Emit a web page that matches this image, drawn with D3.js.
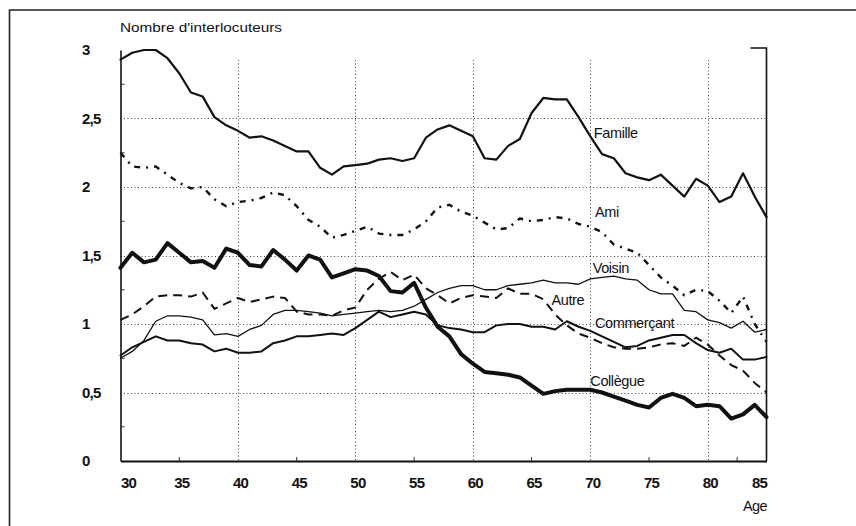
<!DOCTYPE html>
<html>
<head>
<meta charset="utf-8">
<script src="https://cdn.jsdelivr.net/npm/d3@7"></script>
<style>
  html, body { margin: 0; padding: 0; background: #fff; }
  svg { display: block; }
  text { font-family: "Liberation Sans", Arial, Helvetica, sans-serif; fill: #111; }
</style>
</head>
<body>
<svg id="chart" width="856" height="526"></svg>
<script>
// ---- Data ----
const ages = d3.range(30, 86); // 30..85
const famille = [2.93,2.98,3.00,3.00,2.94,2.83,2.69,2.66,2.51,2.45,2.41,2.36,2.37,2.34,2.30,2.26,2.26,2.14,2.09,2.15,
  2.16,2.17,2.20,2.21,2.19,2.21,2.36,2.42,2.45,2.41,2.37,2.21,2.20,2.30,2.35,2.54,2.65,2.64,2.64,2.51,
  2.37,2.24,2.21,2.10,2.07,2.05,2.09,2.01,1.93,2.06,2.01,1.89,1.93,2.10,1.93,1.78];
const ami = [2.25,2.15,2.14,2.15,2.09,2.03,1.99,2.00,1.91,1.86,1.89,1.90,1.92,1.96,1.94,1.86,1.76,1.71,1.63,1.65,
  1.68,1.71,1.66,1.65,1.65,1.69,1.75,1.85,1.87,1.82,1.79,1.74,1.69,1.70,1.77,1.75,1.76,1.78,1.77,1.73,
  1.71,1.67,1.58,1.55,1.52,1.43,1.34,1.28,1.21,1.25,1.24,1.17,1.08,1.20,1.00,0.87];
const voisin = [0.75,0.80,0.88,1.02,1.06,1.06,1.05,1.03,0.92,0.93,0.91,0.96,0.99,1.07,1.10,1.10,1.09,1.08,1.06,1.07,
  1.08,1.09,1.10,1.09,1.10,1.13,1.18,1.23,1.26,1.28,1.28,1.25,1.25,1.28,1.29,1.30,1.32,1.30,1.30,1.29,
  1.33,1.34,1.35,1.33,1.32,1.25,1.22,1.22,1.10,1.09,1.03,1.01,0.97,1.02,0.94,0.96];
const autre = [1.03,1.07,1.13,1.20,1.21,1.21,1.20,1.23,1.11,1.15,1.19,1.16,1.18,1.20,1.19,1.09,1.07,1.07,1.06,1.10,
  1.12,1.25,1.33,1.38,1.32,1.36,1.26,1.21,1.15,1.19,1.21,1.20,1.19,1.26,1.22,1.22,1.18,1.07,0.99,0.93,
  0.90,0.86,0.83,0.82,0.82,0.83,0.85,0.86,0.84,0.90,0.85,0.77,0.70,0.66,0.57,0.50];
const commercant = [0.77,0.83,0.87,0.91,0.88,0.88,0.86,0.85,0.80,0.82,0.79,0.79,0.80,0.86,0.88,0.91,0.91,0.92,0.93,0.92,
  0.97,1.03,1.09,1.05,1.07,1.09,1.07,0.99,0.97,0.96,0.94,0.94,0.99,1.00,1.00,0.98,0.98,0.96,1.02,0.98,
  0.95,0.91,0.87,0.83,0.84,0.88,0.90,0.92,0.92,0.86,0.81,0.79,0.82,0.74,0.74,0.76];
const collegue = [1.41,1.52,1.45,1.47,1.59,1.52,1.45,1.46,1.41,1.55,1.52,1.43,1.42,1.54,1.47,1.39,1.50,1.47,1.34,1.37,
  1.40,1.39,1.35,1.24,1.23,1.30,1.12,0.98,0.91,0.78,0.71,0.65,0.64,0.63,0.61,0.55,0.49,0.51,0.52,0.52,
  0.52,0.50,0.47,0.44,0.41,0.39,0.46,0.49,0.46,0.40,0.41,0.40,0.31,0.34,0.41,0.32];

const seriesNames = ["Famille","Ami","Voisin","Autre","Commerçant","Collègue"];
const yTickValues = [0, 0.5, 1, 1.5, 2, 2.5, 3];
const yTickLabels = ["0","0,5","1","1,5","2","2,5","3"];
const xTickValues = [30,35,40,45,50,55,60,65,70,75,80,85];
const xTickLabels = ["30","35","40","45","50","55","60","65","70","75","80","85"];
const yTitle = "Nombre d'interlocuteurs";
const xTitle = "Age";

// ---- Styles ----
const styles = {
  "Famille":    { values: famille,    width: 2.2, dash: null },
  "Ami":        { values: ami,        width: 2.4, dash: "6,6,2,6" },
  "Voisin":     { values: voisin,     width: 1.3, dash: null },
  "Autre":      { values: autre,      width: 2.0, dash: "9,6" },
  "Commerçant": { values: commercant, width: 2.0, dash: null },
  "Collègue":   { values: collegue,   width: 4.0, dash: null }
};
// label anchors in data units (age, value)
const labelAnchors = {
  "Famille": [70.3, 2.36], "Ami": [70.4, 1.78], "Voisin": [70.2, 1.37],
  "Autre": [66.7, 1.14], "Commerçant": [70.4, 0.97], "Collègue": [70.0, 0.55]
};

const svg = d3.select("#chart");

// outer frame (top and left edges visible)
svg.append("path").attr("d", "M9.5,526 L9.5,10 L856,10")
  .attr("fill", "none").attr("stroke", "#222").attr("stroke-width", 1.6);

const x = d3.scaleLinear().domain([30, 85]).range([120.5, 766.5]);
const y = d3.scaleLinear().domain([0, 3]).range([461, 50]);

// grid
const grid = svg.append("g").attr("stroke", "#444").attr("stroke-width", 1).attr("stroke-dasharray", "1,2.5");
grid.selectAll("line.h").data([0.5, 1, 1.5, 2, 2.5]).join("line")
  .attr("x1", x(30)).attr("x2", x(85)).attr("y1", d => Math.round(y(d)) + 0.5).attr("y2", d => Math.round(y(d)) + 0.5);
grid.selectAll("line.v").data([40, 50, 60, 70, 80]).join("line")
  .attr("y1", y(3) + 10).attr("y2", y(0)).attr("x1", d => Math.round(x(d)) + 0.5).attr("x2", d => Math.round(x(d)) + 0.5);

// axes
const yAxis = d3.axisLeft(y).tickValues(yTickValues).tickSize(0).tickPadding(0)
  .tickFormat((d, i) => yTickLabels[i]);
const gy = svg.append("g").attr("transform", `translate(${x(30)},0)`).call(yAxis);
gy.select(".domain").attr("stroke", "#111").attr("stroke-width", 1.6);
gy.selectAll("text").attr("text-anchor", "start").attr("x", 82 - x(30)).attr("dy", "0.32em")
  .style("font-size", "15px").style("font-weight", "bold").style("letter-spacing", "-0.8px");

// minor inward ticks on left axis
svg.append("g").selectAll("line").data([0.25,0.75,1.25,1.75,2.25,2.75]).join("line")
  .attr("x1", x(30)).attr("x2", x(30) + 4).attr("y1", d => y(d)).attr("y2", d => y(d))
  .attr("stroke", "#333").attr("stroke-width", 1);

const xAxis = d3.axisBottom(x).tickValues(xTickValues).tickSize(0).tickPadding(16)
  .tickFormat((d, i) => xTickLabels[i]);
const gx = svg.append("g").attr("transform", `translate(0,${y(0)})`).call(xAxis);
gx.select(".domain").attr("stroke", "#111").attr("stroke-width", 2);
gx.selectAll("text").style("font-size", "15px").style("font-weight", "bold").style("letter-spacing", "-0.8px")
  .attr("text-anchor", (d, i) => i === 0 ? "start" : (i === xTickValues.length - 1 ? "end" : "middle"))
  .attr("dx", (d, i) => (i === 0 || i === xTickValues.length - 1) ? 0 : 2);

// minor inward ticks on bottom axis
svg.append("g").selectAll("line").data([35,45,55,65,75,82.5]).join("line")
  .attr("x1", d => x(d)).attr("x2", d => x(d)).attr("y1", y(0)).attr("y2", y(0) - 4)
  .attr("stroke", "#333").attr("stroke-width", 1);

// right border
svg.append("path").attr("d", `M${x(85) - 16},${y(3) - 2} L${x(85)},${y(3) - 2} L${x(85)},${y(0)}`)
  .attr("fill", "none").attr("stroke", "#111").attr("stroke-width", 1.6);

// titles
svg.append("text").attr("x", 120).attr("y", 32).attr("textLength", 162).attr("lengthAdjust", "spacingAndGlyphs")
  .style("font-size", "12.5px").text(yTitle);
svg.append("text").attr("x", 767).attr("y", 511).attr("text-anchor", "end").style("font-size", "14.5px")
  .style("letter-spacing", "-0.6px").text(xTitle);

// lines
const line = d3.line().x((d, i) => x(ages[i])).y(d => y(d)).curve(d3.curveLinear);
const gl = svg.append("g");
seriesNames.forEach(name => {
  const s = styles[name];
  gl.append("path").datum(s.values)
    .attr("d", line)
    .attr("fill", "none").attr("stroke", "#111")
    .attr("stroke-width", s.width)
    .attr("stroke-linejoin", "round").attr("stroke-linecap", s.dash ? "butt" : "round")
    .attr("stroke-dasharray", s.dash);
});

// series labels
svg.append("g").selectAll("text").data(seriesNames).join("text")
  .attr("x", d => x(labelAnchors[d][0])).attr("y", d => y(labelAnchors[d][1]))
  .style("font-size", "14.5px").style("letter-spacing", "-0.4px")
  .text(d => d);
</script>
</body>
</html>
